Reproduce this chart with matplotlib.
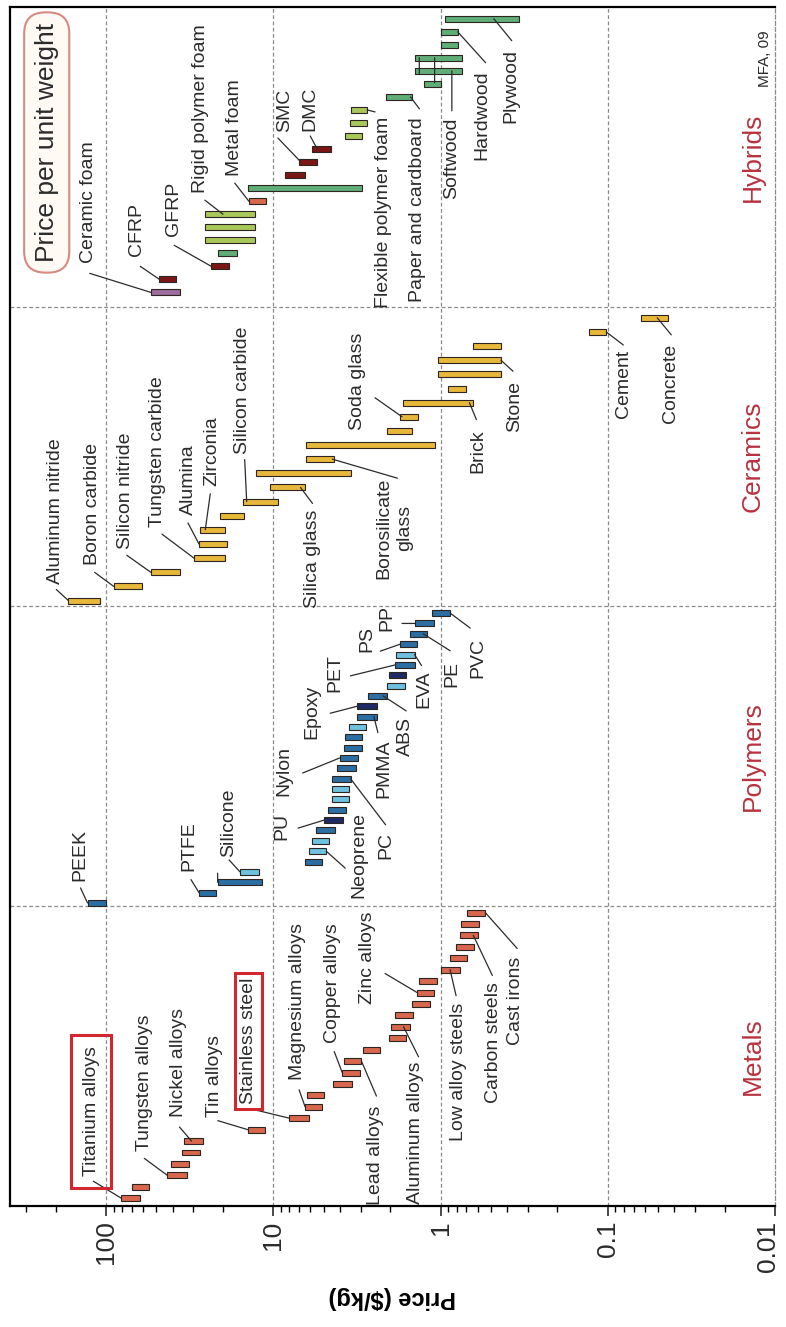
import numpy as np
import matplotlib.pyplot as plt
from matplotlib.transforms import ScaledTranslation

plt.rcParams['font.family'] = ['Liberation Sans', 'DejaVu Sans']

# price ranges in $/kg, one bar per material (listed bottom to top of each band)
families = ['Metals', 'Polymers', 'Ceramics', 'Hybrids']

metal_hi = [81, 70, 43, 41, 35, 34, 14.2, 8.0, 6.45, 6.3, 4.4, 3.87, 3.78, 2.91, 2.04, 1.97,
            1.86, 1.48, 1.38, 1.35, 1.0, 0.875, 0.81, 0.76, 0.75, 0.69]
metal_lo = [63, 55, 33, 32, 27.6, 26.4, 11.2, 6.1, 5.1, 5.0, 3.4, 3.05, 2.97, 2.29, 1.6, 1.53,
            1.47, 1.15, 1.10, 1.05, 0.76, 0.69, 0.63, 0.60, 0.59, 0.54]
metal_col = ['R'] * 26

poly_hi = [129, 27.8, 21.5, 15.8, 6.45, 6.1, 5.89, 5.57, 4.97, 4.72, 4.47, 4.47, 4.43, 4.14, 4.01,
           3.78, 3.73, 3.53, 3.15, 3.15, 2.71, 2.09, 2.04, 1.86, 1.85, 1.74, 1.53, 1.42, 1.13]
poly_lo = [100, 21.9, 11.6, 12.1, 5.09, 4.82, 4.64, 4.30, 3.83, 3.69, 3.53, 3.53, 3.45, 3.22, 3.12,
           2.94, 2.94, 2.79, 2.41, 2.41, 2.09, 1.64, 1.61, 1.43, 1.43, 1.38, 1.21, 1.10, 0.875]
poly_col = list('MMMLMLLMNMLLMMMMMLMNMLNMLMMMM')

cer_hi = [168, 90, 54, 29.8, 27.8, 27.3, 20.8, 15.2, 10.5, 12.6, 6.34, 6.34, 2.09, 1.74, 1.68,
          0.90, 1.04, 1.04, 0.64, 0.130, 0.0634]
cer_lo = [109, 61, 36, 19.4, 19.0, 19.4, 14.9, 9.4, 6.45, 3.42, 4.33, 1.08, 1.49, 1.37, 0.64,
          0.70, 0.435, 0.435, 0.435, 0.102, 0.0435]
cer_col = ['C'] * 21

hyb_hi = [54, 48, 23.5, 21.5, 25.7, 25.7, 25.7, 14.0, 14.2, 8.5, 7.0, 5.84, 3.73, 3.48, 3.45,
          2.13, 1.26, 1.43, 1.43, 1.0, 1.0, 0.94]
hyb_lo = [36, 38, 18.3, 16.5, 12.8, 12.8, 12.8, 11.0, 2.94, 6.45, 5.5, 4.5, 2.94, 2.75, 2.75,
          1.48, 0.99, 0.74, 0.74, 0.79, 0.79, 0.34]
hyb_col = list('PDDGYYYSGDDDYYYGGGGGGG')

tick_vals = [100, 10, 1, 0.1, 0.01]
tick_txt = ['100', '10', '1', '0.1', '0.01']

# labels: family, bar index, position along bar (0 = high end, 1 = low end),
# leader end offset (px), text offset (px), vertical alignment, text
labels = [
    (0, 0, 0.0, (-28, 17), (-30, 22), 'bottom', 'Titanium alloys'),
    (0, 2, 0.0, (-23, 17), (-23, 24), 'bottom', 'Tungsten alloys'),
    (0, 5, 0.39, (-12, 14), (-13, 24), 'bottom', 'Nickel alloys'),
    (0, 6, 0.0, (-30, 9), (-33, 13), 'bottom', 'Tin alloys'),
    (0, 7, 0.0, (-37, 9), (-41, 14), 'bottom', 'Stainless steel'),
    (0, 8, 0.0, (-6, 17), (-8, 27), 'bottom', 'Magnesium alloys'),
    (0, 11, 0.0, (-8, 21), (-10, 30), 'bottom', 'Copper alloys'),
    (0, 12, 1.0, (15, -35), (14, -45), 'top', 'Lead alloys'),
    (0, 18, 0.0, (-32, 19), (-50, -11), 'bottom', 'Zinc alloys'),
    (0, 15, 0.67, (15, -30), (12, -35), 'top', 'Aluminum alloys'),
    (0, 20, 0.48, (6, -26), (8, -33), 'top', 'Low alloy steels'),
    (0, 23, 0.75, (19, -40), (20, -47), 'top', 'Carbon steels'),
    (0, 25, 1.0, (32, -36), (30, -44), 'top', 'Cast irons'),
    (1, 0, 0.0, (-7, 15), (-8, 22), 'bottom', 'PEEK'),
    (1, 1, 0.0, (-8, 13), (-10, 22), 'bottom', 'PTFE'),
    (1, 3, 0.0, (-11, 12), (-11, 15), 'bottom', 'Silicone'),
    (1, 2, 0.0, (0, 9), (0, 0), 'bottom', ''),
    (1, 5, 1.0, (19, -17), (33, -47), 'bottom', 'Neoprene'),
    (1, 8, 0.0, (-26, -8), (-42, -20), 'bottom', 'PU'),
    (1, 12, 1.0, (35, -46), (35, -80), 'bottom', 'PC'),
    (1, 14, 0.0, (-37, -15), (-56, -38), 'bottom', 'Nylon'),
    (1, 18, 0.86, (4, -16), (10, -81), 'bottom', 'PMMA'),
    (1, 19, 0.0, (-27, -7), (-45, -33), 'bottom', 'Epoxy'),
    (1, 20, 0.8, (23, -15), (22, -60), 'bottom', 'ABS'),
    (1, 23, 0.0, (-45, -11), (-61, -27), 'bottom', 'PET'),
    (1, 24, 1.0, (7, -11), (9, -16), 'top', 'EVA'),
    (1, 25, 0.0, (-20, -7), (-33, -8), 'bottom', 'PS'),
    (1, 26, 0.8, (27, -17), (29, -27), 'top', 'PE'),
    (1, 27, 0.0, (-13, 0), (-28, -8), 'bottom', 'PP'),
    (1, 28, 1.0, (20, -15), (28, -25), 'top', 'PVC'),
    (2, 0, 0.0, (-12, 11), (-13, 17), 'bottom', 'Aluminum nitride'),
    (2, 1, 0.0, (-19, 14), (-21, 21), 'bottom', 'Boron carbide'),
    (2, 2, 0.0, (-24, 17), (-25, 23), 'bottom', 'Silicon nitride'),
    (2, 3, 0.0, (-32, 24), (-36, 31), 'bottom', 'Tungsten carbide'),
    (2, 4, 0.0, (-11, 21), (-11, 29), 'bottom', 'Alumina'),
    (2, 5, 0.2, (5, 36), (7, 44), 'bottom', 'Zirconia'),
    (2, 7, 0.11, (-2, 42), (-4, 48), 'bottom', 'Silicon carbide'),
    (2, 8, 0.87, (12, -16), (12, -22), 'top', 'Silica glass'),
    (2, 10, 0.94, (65, -19), (62, -69), 'center', 'Borosilicate\nglass'),
    (2, 13, 0.1, (-27, 19), (-45, -13), 'bottom', 'Soda glass'),
    (2, 14, 0.95, (7, -17), (8, -27), 'top', 'Brick'),
    (2, 17, 1.0, (12, -11), (14, -21), 'top', 'Stone'),
    (2, 19, 1.0, (17, -13), (17, -18), 'top', 'Cement'),
    (2, 20, 0.6, (14, -17), (13, -26), 'top', 'Concrete'),
    (3, 0, 0.0, (-61, 19), (-62, 29), 'bottom', 'Ceramic foam'),
    (3, 1, 0.0, (-19, 13), (-23, 23), 'bottom', 'CFRP'),
    (3, 2, 0.0, (-37, 21), (-38, 30), 'bottom', 'GFRP'),
    (3, 6, 0.36, (-18, 14), (-22, 21), 'bottom', 'Rigid polymer foam'),
    (3, 7, 0.0, (-14, 18), (-14, 25), 'bottom', 'Metal foam'),
    (3, 10, 0.1, (-23, 24), (-16, 30), 'bottom', 'SMC'),
    (3, 11, 0.26, (-7, 13), (-7, 18), 'bottom', 'DMC'),
    (3, 14, 1.0, (8, -2), (16, -7), 'top', 'Flexible polymer foam'),
    (3, 15, 0.94, (9, -12), (7, -20), 'top', 'Paper and cardboard'),
    (3, 17, 0.78, (0, -40), (0, -47), 'top', 'Softwood'),
    (3, 18, 0.1, (0, -16), (0, 0), 'top', ''),
    (3, 18, 0.42, (0, -25), (0, 0), 'top', ''),
    (3, 20, 1.0, (28, -31), (24, -39), 'top', 'Hardwood'),
    (3, 21, 0.66, (18, -22), (17, -30), 'top', 'Plywood'),
]
boxed = {'Titanium alloys': 0.6, 'Stainless steel': 0.25}

colours = {'R': '#d8674e', 'M': '#2a6ea3', 'L': '#6ec1df', 'N': '#1e2a63', 'C': '#e8b83b',
           'P': '#9b6c9f', 'D': '#7c1616', 'G': '#5fae78', 'Y': '#a9c85a', 'S': '#d8674e'}
# first / last bar slot inside each band
slots = [(0.026, 0.979), (0.011, 0.978), (0.02, 0.963), (0.048, 0.961)]

data = [(metal_hi, metal_lo, metal_col), (poly_hi, poly_lo, poly_col),
        (cer_hi, cer_lo, cer_col), (hyb_hi, hyb_lo, hyb_col)]

fig = plt.figure(figsize=(7.86, 13.27), dpi=100)
ax = fig.add_axes([10 / 786, 1 - 1206 / 1327, 765 / 786, 1199 / 1327])
ax.set_xscale('log')
ax.set_xlim(375, 0.01)
ax.set_ylim(0, 4)

ypos = []
for k, (hi, lo, col) in enumerate(data):
    hi = np.array(hi)
    lo = np.array(lo)
    y = k + np.linspace(slots[k][0], slots[k][1], len(hi))
    ypos.append(y)
    ax.barh(y, hi - lo, left=lo, height=0.02, color=[colours[c] for c in col],
            edgecolor='#2e2420', linewidth=0.8, zorder=3)

for fam, i, t, lead, off, va, txt in labels:
    hi, lo = data[fam][0][i], data[fam][1][i]
    x = 10 ** (np.log10(hi) + t * (np.log10(lo) - np.log10(hi)))
    y = ypos[fam][i]
    ax.annotate('', xy=(x, y), xytext=lead, textcoords='offset pixels',
                arrowprops=dict(arrowstyle='-', color='#2b2b2b', lw=0.9,
                                shrinkA=0, shrinkB=0), zorder=4)
    if txt:
        bbox = None
        if txt in boxed:
            bbox = dict(boxstyle='square,pad=%s' % boxed[txt], fc='none', ec='#d0282e', lw=2.2)
        ax.annotate(txt, xy=(x, y), xytext=off, textcoords='offset pixels', rotation=90,
                    ha='center', va=va, fontsize=14, color='#2b2b2b', linespacing=1.3,
                    multialignment='center', bbox=bbox, zorder=5)

# family bands and decade lines
dash = (0, (3, 2))
for k in range(1, 4):
    ax.axhline(k, color='#8a8a8a', lw=0.9, ls=dash, zorder=1)
for d in tick_vals[:-1]:
    ax.axvline(d, color='#8a8a8a', lw=0.9, ls=dash, zorder=1)

for k, name in enumerate(families):
    ax.text(0.971, (k + 0.5) / 4, name, transform=ax.transAxes, rotation=90, ha='center',
            va='center', fontsize=19, color='#b8323e')

ax.text(0.048, 0.887, 'Price per unit weight', transform=ax.transAxes, rotation=90,
        ha='center', va='center', fontsize=19, color='#2b2b2b',
        bbox=dict(boxstyle='round,pad=0.4,rounding_size=0.8', fc='#fffaf3', ec='#d88a80', lw=1.5))
ax.text(0.987, 0.957, 'MFA, 09', transform=ax.transAxes, rotation=90, ha='center',
        va='center', fontsize=11, color='#2b2b2b')

ax.set_xticks(tick_vals, tick_txt)
ax.tick_params(axis='x', which='major', direction='out', length=7, width=1.2,
               labelsize=19, labelrotation=90, colors='#2b2b2b')
ax.tick_params(axis='x', which='minor', direction='out', length=4, width=1.0)
ax.set_yticks([])
ax.set_xlabel('Price ($/kg)', fontsize=17, fontweight='bold', rotation=180, labelpad=10)

# nudge the last tick label so it stays inside the picture
last = ax.get_xticklabels()[-1]
last.set_transform(last.get_transform() + ScaledTranslation(-5 / 72, 0, fig.dpi_scale_trans))

for s in ['left', 'bottom', 'top']:
    ax.spines[s].set_linewidth(1.6)
ax.spines['right'].set_linestyle(dash)
ax.spines['right'].set_color('#8a8a8a')
ax.spines['right'].set_linewidth(0.9)

fig.savefig('out.png', dpi=100)
